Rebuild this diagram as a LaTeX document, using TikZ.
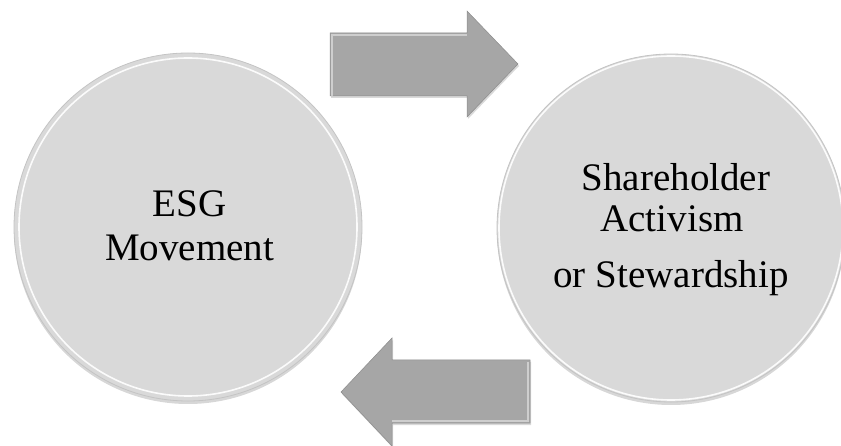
\documentclass[tikz,border=0pt]{standalone}
\usepackage{fontspec}
\setmainfont{Liberation Serif}
\usetikzlibrary{shadows}
\definecolor{circfill}{HTML}{D9D9D9}
\definecolor{circrim}{HTML}{C4C4C4}
\definecolor{arrfill}{HTML}{A6A6A6}
\definecolor{arrdark}{HTML}{8C8C8C}
\begin{document}
\begin{tikzpicture}[x=1pt,y=-1pt,
  disc/.style={circle, minimum size=348pt, inner sep=0pt, fill=circfill,
    draw=circrim, line width=0.8pt,
    drop shadow={shadow xshift=0pt, shadow yshift=-3pt, opacity=0.35, fill=black!45}},
  rim/.style={draw=white, line width=1.6pt, opacity=0.9},
  lbl/.style={anchor=base, font=\fontsize{39}{42}\selectfont, inner sep=0pt, text=black},
  blockarrow/.style={fill=arrfill, draw=arrdark, line width=0.5pt, line join=miter,
    drop shadow={shadow xshift=1pt, shadow yshift=-2pt, opacity=0.3, fill=black!50}},
  bevel/.style={draw=white, line width=1.2pt, opacity=0.45}]
\useasboundingbox (0,0) rectangle (841,446);
% circles
\node[disc] (esg) at (188,227) {};
\node[disc] (sha) at (671,228) {};
\draw[rim] (esg.center) circle[radius=169];
\draw[rim] (sha.center) circle[radius=172];
% upper block arrow (ESG -> Shareholder)
\draw[blockarrow] (330,33) -- (467,33) -- (467,11) -- (518,64) -- (467,117)
  -- (467,96) -- (330,96) -- cycle;
\draw[bevel] (332,96) -- (332,35) -- (467,35);
% lower block arrow (Shareholder -> ESG)
\draw[blockarrow] (530,360) -- (392,360) -- (392,338) -- (341,392) -- (392,446)
  -- (392,423) -- (530,423) -- cycle;
\draw[bevel] (392,421) -- (528,421) -- (528,362);
% texts
\node[lbl] (t1) at (189.5,217) {ESG};
\node[lbl] (t2) at (189.5,261) {Movement};
\node[lbl] (t3) at (676,191) {Shareholder};
\node[lbl] (t4) at (672,232) {Activism};
\node[lbl] (t5) at (671,288) {or Stewardship};
\end{tikzpicture}
\end{document}
